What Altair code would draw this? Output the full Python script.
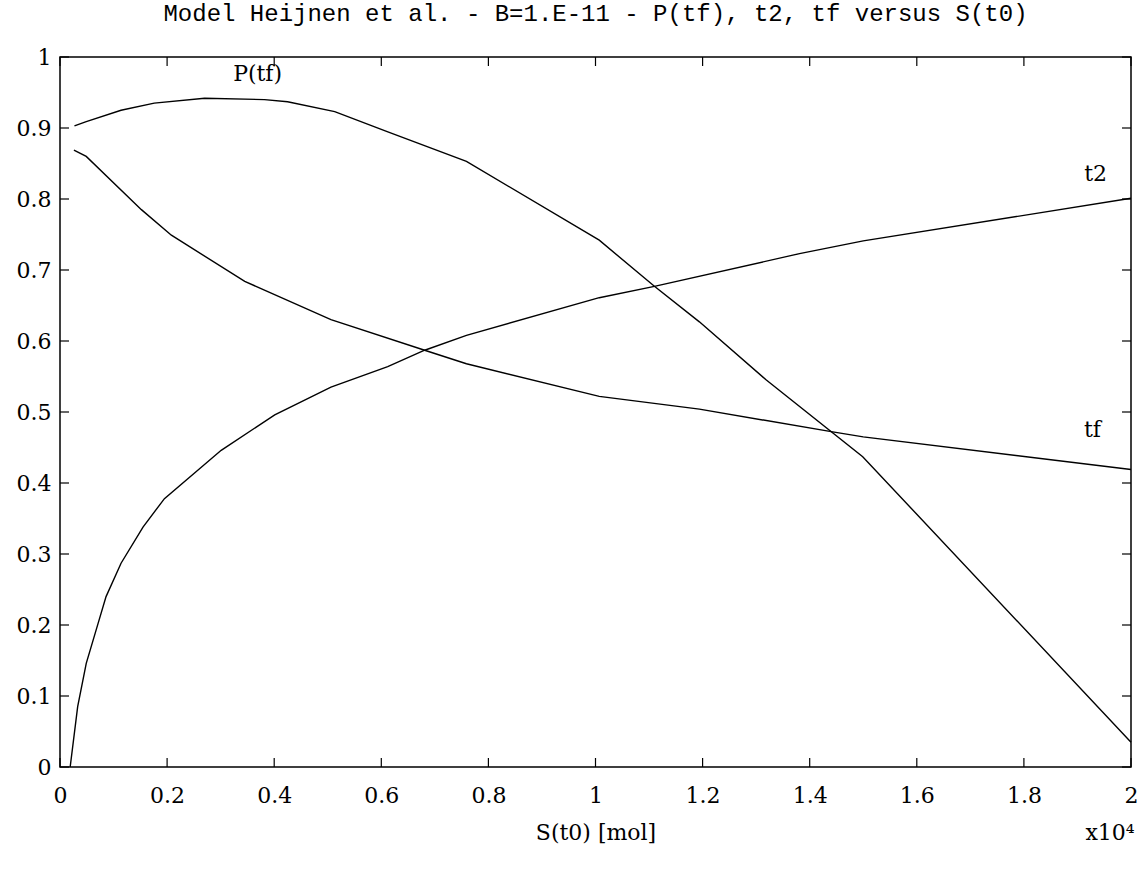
import altair as alt
import pandas as pd

# ---- data ----
p_x = [0.027, 0.049, 0.114, 0.176, 0.270, 0.382, 0.425, 0.513, 0.611, 0.759, 1.007, 1.110, 1.194, 1.319, 1.499, 2.0]
p_y = [0.903, 0.909, 0.925, 0.935, 0.942, 0.940, 0.937, 0.923, 0.895, 0.853, 0.742, 0.677, 0.627, 0.545, 0.437, 0.035]

t2_x = [0.019, 0.033, 0.049, 0.071, 0.086, 0.114, 0.155, 0.195, 0.301, 0.401, 0.506, 0.612, 0.681, 0.759, 1.007, 1.110, 1.381, 1.5, 2.0]
t2_y = [0.0, 0.085, 0.146, 0.202, 0.240, 0.287, 0.338, 0.378, 0.446, 0.496, 0.535, 0.564, 0.587, 0.608, 0.661, 0.677, 0.723, 0.741, 0.801]

tf_x = [0.026, 0.049, 0.152, 0.208, 0.345, 0.506, 0.681, 0.759, 1.007, 1.194, 1.443, 1.5, 2.0]
tf_y = [0.869, 0.860, 0.785, 0.749, 0.684, 0.630, 0.587, 0.568, 0.522, 0.504, 0.472, 0.465, 0.419]

label_text = ["P(tf)", "t2", "tf"]
label_x = [0.369, 1.934, 1.928]
label_y = [0.976, 0.835, 0.475]

x_ticks = [0, 0.2, 0.4, 0.6, 0.8, 1, 1.2, 1.4, 1.6, 1.8, 2]
y_ticks = [0, 0.1, 0.2, 0.3, 0.4, 0.5, 0.6, 0.7, 0.8, 0.9, 1]

title_text = "Model Heijnen et al. - B=1.E-11 - P(tf), t2, tf versus S(t0)"
x_title = "S(t0) [mol]"
x_mult = "x10⁴"

# ---- layout ----
W, H = 1071, 710
FONT = "DejaVu Serif"
TFONT = "Liberation Mono"
TL = 9

rows = []
for name, xv, yv in [("P(tf)", p_x, p_y), ("t2", t2_x, t2_y), ("tf", tf_x, tf_y)]:
    for i, (a, b) in enumerate(zip(xv, yv)):
        rows.append({"series": name, "x": a, "y": b, "i": i})
df = pd.DataFrame(rows)
lab = pd.DataFrame({"t": label_text, "x": label_x, "y": label_y})
xt = pd.DataFrame({"x": x_ticks})
yt = pd.DataFrame({"y": y_ticks})

xs = alt.Scale(domain=[0, 2], nice=False, zero=False)
ys = alt.Scale(domain=[0, 1], nice=False, zero=False)

axis_common = dict(grid=False, domain=False, ticks=False, labelFont=FONT, labelFontSize=22,
                   labelColor="black", titleFont=FONT, titleFontSize=22, titleColor="black",
                   titleFontWeight="normal", format="~g", labelFlush=False)
XAX = alt.Axis(values=x_ticks, title=x_title, labelPadding=18, titlePadding=16, **axis_common)
YAX = alt.Axis(values=y_ticks, title=None, labelPadding=9, **axis_common)

X = alt.X("x:Q", scale=xs, axis=XAX)
Y = alt.Y("y:Q", scale=ys, axis=YAX)

lines = alt.Chart(df).mark_line(color="black", strokeWidth=1.4).encode(
    x=X, y=Y, detail="series:N", order="i:Q",
)

labels = alt.Chart(lab).mark_text(font=FONT, fontSize=22, color="black").encode(
    x=X, y=Y, text="t:N",
)

left_t = alt.Chart(yt).mark_rule(color="black", strokeWidth=1.2).encode(
    y=Y, x=alt.value(0), x2=alt.value(TL))
right_t = alt.Chart(yt).mark_rule(color="black", strokeWidth=1.2).encode(
    y=Y, x=alt.value(W - TL), x2=alt.value(W))
top_t = alt.Chart(xt).mark_rule(color="black", strokeWidth=1.2).encode(
    x=X, y=alt.value(0), y2=alt.value(TL))
bot_t = alt.Chart(xt).mark_rule(color="black", strokeWidth=1.2).encode(
    x=X, y=alt.value(H - TL), y2=alt.value(H))

mult = alt.Chart(pd.DataFrame({"t": [x_mult]})).mark_text(
    font=FONT, fontSize=22, color="black").encode(
    text="t:N", x=alt.value(W - 21), y=alt.value(H + 66))

chart = alt.layer(lines, labels, left_t, right_t, top_t, bot_t, mult).properties(
    width=W, height=H,
    title=alt.TitleParams(title_text, font=TFONT, fontSize=24, fontWeight="normal",
                          color="black", offset=20, anchor="middle"),
    autosize=alt.AutoSizeParams(type="none"),
    padding={"left": 60, "top": 57, "right": 16, "bottom": 110},
    background="white",
).configure_view(stroke="black", strokeWidth=1.5)

chart.save("out.html", embed_options={"renderer": "svg", "actions": False})
